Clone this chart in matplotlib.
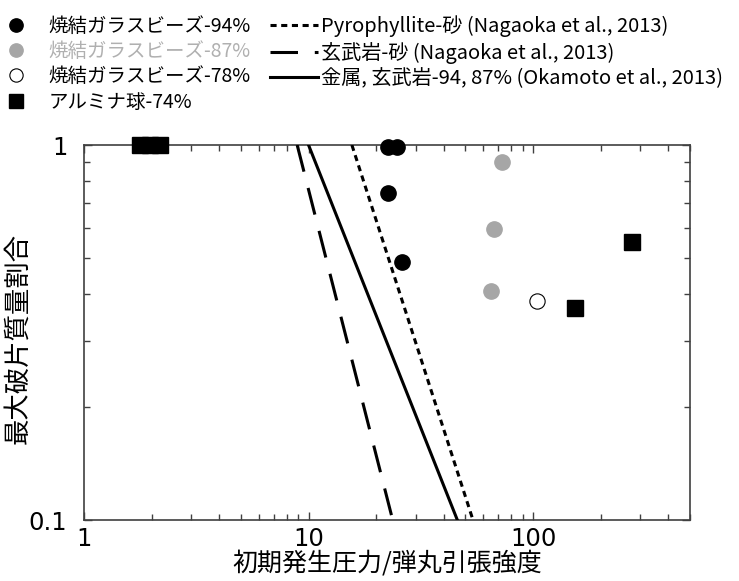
import matplotlib
matplotlib.use("Agg")
import matplotlib.pyplot as plt
from matplotlib.ticker import FixedLocator, NullFormatter

plt.rcParams["font.family"] = ["Noto Sans CJK JP", "DejaVu Sans"]

# sintered glass beads, 94 %
glass94_x = [22.5, 24.9, 22.5, 26.2]
glass94_y = [0.99, 0.99, 0.745, 0.488]
# sintered glass beads, 87 %
glass87_x = [72.6, 67.3, 65.1]
glass87_y = [0.903, 0.598, 0.408]
# sintered glass beads, 78 %
glass78_x = [104.0]
glass78_y = [0.384]
# alumina spheres, 74 %
alumina_x = [1.78, 1.97, 2.19, 154.0, 275.0]
alumina_y = [1.0, 1.0, 1.0, 0.368, 0.551]

# literature fits (end points of each line)
pyro_x = [15.6, 54.0]
pyro_y = [1.0, 0.1]
basalt_sand_x = [8.9, 23.7]
basalt_sand_y = [1.0, 0.1]
metal_x = [10.0, 46.0]
metal_y = [1.0, 0.1]

x_ticks = [1, 10, 100]
x_tick_labels = ["1", "10", "100"]
y_ticks = [0.1, 1]
y_tick_labels = ["0.1", "1"]

fig = plt.figure(figsize=(7.39, 5.81), dpi=100)
ax = fig.add_axes([84 / 739, 1 - 520 / 581, 606 / 739, 375 / 581])

gray = "#a6a6a6"
ms = 11

h1, = ax.plot(glass94_x, glass94_y, "o", color="black", ms=ms, clip_on=False, zorder=4)
h2, = ax.plot(glass87_x, glass87_y, "o", color=gray, ms=ms, clip_on=False, zorder=4)
h3, = ax.plot(glass78_x, glass78_y, "o", mfc="white", mec="black", mew=0.8, ms=ms,
              clip_on=False, zorder=4)
h4, = ax.plot(alumina_x, alumina_y, "s", color="black", ms=12, clip_on=False, zorder=4)

l1, = ax.plot(pyro_x, pyro_y, color="black", lw=2.2, dashes=(2.0, 1.5), zorder=3)
l2, = ax.plot(basalt_sand_x, basalt_sand_y, color="black", lw=2.2, dashes=(9.0, 5.5), zorder=3)
l3, = ax.plot(metal_x, metal_y, color="black", lw=2.2, zorder=3)

ax.set_xscale("log")
ax.set_yscale("log")
ax.set_xlim(1, 500)
ax.set_ylim(0.1, 1)

ax.xaxis.set_major_locator(FixedLocator(x_ticks))
ax.set_xticklabels(x_tick_labels)
ax.xaxis.set_minor_locator(FixedLocator([m * 10 ** e for e in range(0, 3) for m in range(2, 10)
                                         if m * 10 ** e <= 500]))
ax.xaxis.set_minor_formatter(NullFormatter())
ax.yaxis.set_major_locator(FixedLocator(y_ticks))
ax.set_yticklabels(y_tick_labels)
ax.yaxis.set_minor_locator(FixedLocator([m / 10 for m in range(2, 10)]))
ax.yaxis.set_minor_formatter(NullFormatter())

for s in ax.spines.values():
    s.set_color("#404040")
    s.set_linewidth(1.2)
ax.tick_params(which="both", direction="in", top=True, right=True, color="#404040", width=1.0)
ax.tick_params(which="major", length=6)
ax.tick_params(which="minor", length=4)
ax.tick_params(axis="x", which="major", pad=5)
ax.tick_params(axis="y", which="major", pad=12)
for lab in ax.get_xticklabels() + ax.get_yticklabels():
    lab.set_fontfamily("DejaVu Sans")
    lab.set_fontsize(17.5)

ax.set_xlabel("初期発生圧力/弾丸引張強度", fontsize=18, labelpad=0)
ax.set_ylabel("最大破片質量割合", fontsize=19)
ax.yaxis.set_label_coords(-0.086, 0.485)

leg1 = fig.legend([h1, h2, h3, h4],
                  ["焼結ガラスビーズ-94%", "焼結ガラスビーズ-87%", "焼結ガラスビーズ-78%", "アルミナ球-74%"],
                  loc="upper left", bbox_to_anchor=(0.002, 0.973), frameon=False,
                  borderpad=0, borderaxespad=0, handlelength=1.5, handletextpad=0.9,
                  labelspacing=0.22, fontsize=14, markerscale=0.87)
leg1.get_texts()[1].set_color("#b0b0b0")

leg2 = fig.legend([l1, l2, l3],
                  ["Pyrophyllite-砂 (Nagaoka et al., 2013)", "玄武岩-砂 (Nagaoka et al., 2013)",
                   "金属, 玄武岩-94, 87% (Okamoto et al., 2013)"],
                  loc="upper left", bbox_to_anchor=(270 / 739, 0.973), frameon=False,
                  borderpad=0, borderaxespad=0, handlelength=2.4, handletextpad=0.15,
                  labelspacing=0.22, fontsize=14.5)

fig.savefig("out.png", dpi=100)
